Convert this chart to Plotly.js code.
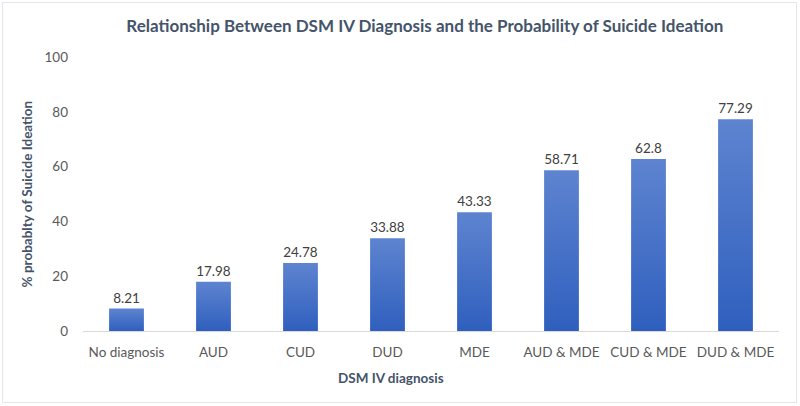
<!DOCTYPE html>
<html>
<head>
<meta charset="utf-8">
<script src="https://cdn.plot.ly/plotly-3.0.1.min.js"></script>
<style>
html,body{margin:0;padding:0;background:#fff;}
#wrap{position:relative;width:800px;height:406px;}
#chart{width:800px;height:406px;}
#frame{position:absolute;left:2px;top:2px;width:793px;height:399px;border:1.5px solid #E3E6EB;pointer-events:none;}
</style>
</head>
<body>
<div id="wrap"><div id="chart"></div><div id="frame"></div></div>
<script>
const categories = ["No diagnosis","AUD","CUD","DUD","MDE","AUD & MDE","CUD & MDE","DUD & MDE"];
const probabilities = [8.21, 17.98, 24.78, 33.88, 43.33, 58.71, 62.8, 77.29];
const valueLabels = ["8.21","17.98","24.78","33.88","43.33","58.71","62.8","77.29"];
const yTicks = [0,20,40,60,80,100];

const FONT = "Lato, 'Open Sans', sans-serif";

const trace = {
  type: "bar",
  x: categories,
  y: probabilities,
  text: valueLabels,
  textposition: "outside",
  texttemplate: "%{text}",
  textfont: {family: FONT, size: 13.5, color: "#404040"},
  cliponaxis: false,
  marker: {color: "#4472C4", line: {width: 0}},
  hoverinfo: "x+y"
};

const layout = {
  width: 800, height: 406,
  margin: {l: 83, r: 21, t: 57, b: 75},
  paper_bgcolor: "#ffffff",
  plot_bgcolor: "#ffffff",
  bargap: 0.6,
  showlegend: false,
  font: {family: FONT, color: "#595959", size: 13.5},
  title: {
    text: "<b>Relationship Between DSM IV Diagnosis and the Probability of Suicide Ideation</b>",
    font: {family: FONT, size: 17, color: "#44546A"},
    x: 0.531, xref: "container", xanchor: "center",
    y: 0.936, yref: "container", yanchor: "middle"
  },
  xaxis: {
    type: "category",
    showline: true, linecolor: "#D9D9D9", linewidth: 1,
    showgrid: false, zeroline: false,
    ticks: "", ticklabelstandoff: 9,
    tickfont: {family: FONT, size: 13.5, color: "#595959"},
    title: {text: ""}
  },
  yaxis: {
    range: [0, 100],
    tickvals: yTicks,
    ticktext: yTicks.map(String),
    showline: false, showgrid: false, zeroline: false,
    ticks: "", ticklabelstandoff: 14,
    tickfont: {family: FONT, size: 13.5, color: "#595959"},
    title: {text: ""}
  },
  annotations: [
    {
      text: "<b>DSM IV diagnosis</b>",
      xref: "paper", yref: "paper",
      x: 0.443, y: -0.1715, xanchor: "center", yanchor: "middle",
      showarrow: false,
      font: {family: FONT, size: 13.5, color: "#44546A"}
    },
    {
      text: "<b>% probablty of Suicide Ideation</b>",
      xref: "paper", yref: "paper",
      x: -0.0805, y: 0.502, xanchor: "center", yanchor: "middle",
      textangle: -90,
      showarrow: false,
      font: {family: FONT, size: 13.5, color: "#44546A"}
    }
  ]
};

Plotly.newPlot("chart", [trace], layout, {displayModeBar: false, staticPlot: true}).then(function(gd){
  // vertical gradient fill for bars (style only)
  const svg = gd.querySelector("svg.main-svg");
  const ns = "http://www.w3.org/2000/svg";
  let defs = svg.querySelector("defs");
  if (!defs) { defs = document.createElementNS(ns, "defs"); svg.insertBefore(defs, svg.firstChild); }
  const lg = document.createElementNS(ns, "linearGradient");
  lg.setAttribute("id", "barGrad");
  lg.setAttribute("x1", "0"); lg.setAttribute("y1", "0");
  lg.setAttribute("x2", "0"); lg.setAttribute("y2", "1");
  [["0%", "#5E84D0"], ["100%", "#2F5FBE"]].forEach(function(s){
    const st = document.createElementNS(ns, "stop");
    st.setAttribute("offset", s[0]); st.setAttribute("stop-color", s[1]);
    lg.appendChild(st);
  });
  defs.appendChild(lg);
  gd.querySelectorAll(".bars .point path").forEach(function(p){
    p.style.fill = "url(#barGrad)";
  });
});
</script>
</body>
</html>
